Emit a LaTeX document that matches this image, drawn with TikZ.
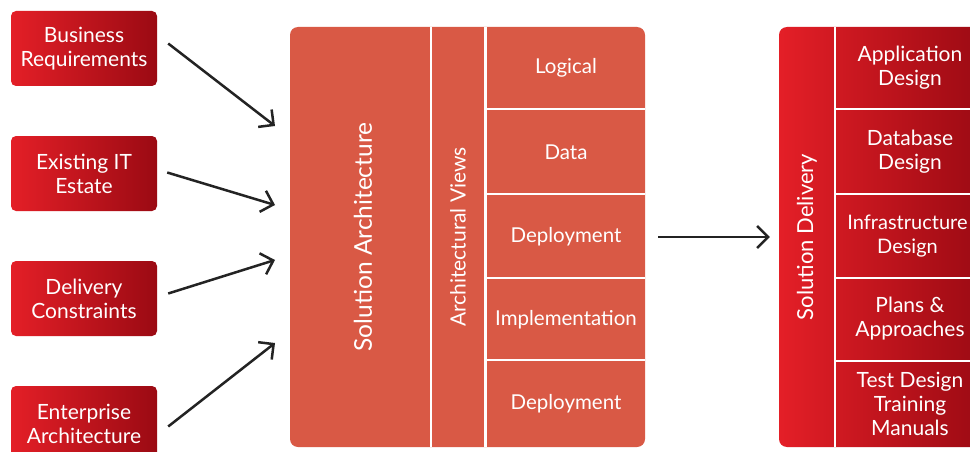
\documentclass[tikz,border=0pt]{standalone}
\usepackage{fontspec}
\setmainfont{Lato}
\usetikzlibrary{arrows.meta}
\definecolor{boxred}{HTML}{E41F27}
\definecolor{boxdark}{HTML}{9B0A13}
\definecolor{archred}{HTML}{D95945}
\definecolor{arrowgrey}{HTML}{232323}

\tikzset{
  inputbox/.style={rounded corners=5pt, left color=boxred, right color=boxdark,
    text=white, minimum width=146pt, minimum height=75pt, align=center,
    font=\fontsize{21}{24}\selectfont},
  flow/.style={draw=arrowgrey, line width=2.5pt,
    -{Straight Barb[length=11pt,width=22pt]}},
  sep/.style={draw=white, line width=2.5pt},
  celltext/.style={text=white, align=center, font=\fontsize{20.5}{24}\selectfont},
}

\begin{document}
\begin{tikzpicture}[x=1pt,y=-1pt]
\useasboundingbox (0,0) rectangle (970,452);
\fill[white] (0,0) rectangle (970,452);
\clip (0,0) rectangle (970,452);
% inputs
\node[inputbox] (br) at (84,48.5) {Business\\Requirements};
\node[inputbox] (it) at (84,173.5) {Existing IT\\Estate};
\node[inputbox] (dc) at (84,298.5) {Delivery\\Constraints};
\node[inputbox] (ea) at (84,423.5) {Enterprise\\Architecture};
% solution architecture
\node[fill=archred, rounded corners=8pt, minimum width=355pt, minimum height=420pt]
  (arch) at (467.5,237) {};
\draw[sep] (431,27) -- (431,447);
\draw[sep] (485.5,27) -- (485.5,447);
\foreach \y in {109,194,278,360}
  \draw[sep] (485.5,\y) -- (645,\y);
\node[celltext, rotate=90, font=\fontsize{24.5}{28}\selectfont] (sa) at (363,237) {Solution Architecture};
\node[celltext, rotate=90, font=\fontsize{21}{24}\selectfont] (av) at (458,237) {Architectural Views};
\node[celltext] (v1) at (566,68) {Logical};
\node[celltext] (v2) at (566,152) {Data};
\node[celltext] (v3) at (566,237) {Deployment};
\node[celltext] (v4) at (566,320) {Implementation};
\node[celltext] (v5) at (566,404) {Deployment};
% solution delivery
\node[left color=boxred, right color=boxdark, rounded corners=8pt,
  minimum width=206pt, minimum height=420pt] (deliv) at (882,237) {};
\draw[sep] (835,27) -- (835,447);
\foreach \y in {109,194,278,361}
  \draw[sep] (835,\y) -- (985,\y);
\node[celltext, rotate=90, font=\fontsize{22}{26}\selectfont] (sd) at (807,237) {Solution Delivery};
\node[celltext, font=\fontsize{21}{24}\selectfont] (d1) at (910,68) {Application\\Design};
\node[celltext, font=\fontsize{21}{24}\selectfont] (d2) at (910,152) {Database\\Design};
\node[celltext, font=\fontsize{20}{24}\selectfont] (d3) at (907.5,236) {Infrastructure\\Design};
\node[celltext, font=\fontsize{21}{24}\selectfont] (d4) at (910,319) {Plans \&\\Approaches};
\node[celltext, font=\fontsize{21}{24}\selectfont] (d5) at (910,404) {Test Design\\Training\\Manuals};
% arrows
\coordinate (in1) at (275,126);
\coordinate (in2) at (275,205);
\coordinate (in3) at (275,260);
\coordinate (in4) at (275,343);
\draw[flow] ([shift={(11,-5)}]br.east) -- (in1);
\draw[flow] ([shift={(10,-1)}]it.east) -- (in2);
\draw[flow] ([shift={(11,-5)}]dc.east) -- (in3);
\draw[flow] ([shift={(11,3)}]ea.east) -- (in4);
\draw[flow] ([xshift=13pt]arch.east) -- ([xshift=-9pt]deliv.west);
\end{tikzpicture}
\end{document}
